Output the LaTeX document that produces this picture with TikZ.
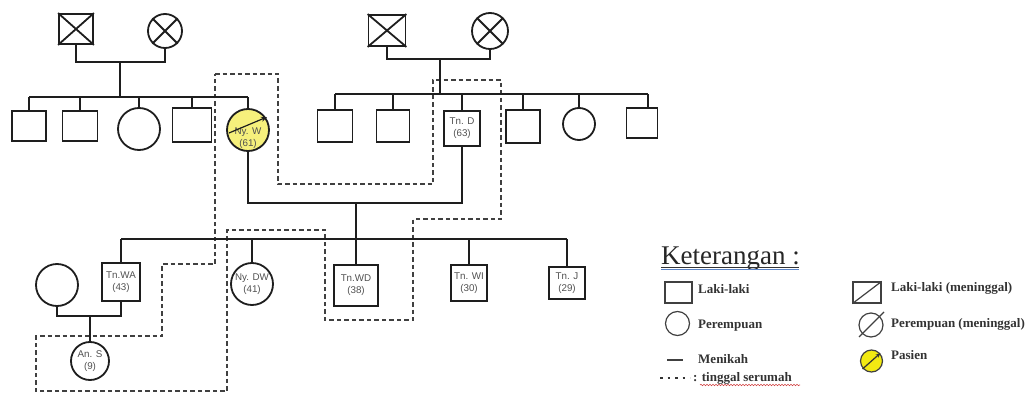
\documentclass[tikz,border=0pt]{standalone}
\usepackage{fontspec}
\setmainfont{Liberation Serif}
\newfontfamily\pedfont{Liberation Sans}
\usetikzlibrary{arrows.meta,calc,decorations.pathmorphing}
\definecolor{lineblack}{HTML}{1E1E1E}
\definecolor{pyellow}{HTML}{F6F07C}
\definecolor{lyellow}{HTML}{F2EA12}
\definecolor{lbl}{HTML}{505050}
\definecolor{ublue}{HTML}{5B84C8}
\definecolor{ured}{HTML}{D04040}
\begin{document}
\begin{tikzpicture}[x=1pt,y=-1pt,
  conn/.style={draw=lineblack, line width=1.8pt},
  sq/.style={draw=lineblack, line width=1.8pt, rectangle, inner sep=0pt, align=center, font=\pedfont\fontsize{9.8}{11.8}\selectfont, text=lbl},
  ci/.style={draw=lineblack, line width=1.8pt, circle, inner sep=0pt, align=center, font=\pedfont\fontsize{9.8}{11.8}\selectfont, text=lbl},
  home/.style={draw=lineblack!85, line width=1.3pt, dash pattern=on 4.5pt off 3pt},
  lg/.style={anchor=base west, inner sep=0pt, font=\bfseries\fontsize{13}{15}\selectfont, text=black!80},
  lsym/.style={draw=black!75, line width=1.2pt, inner sep=0pt}
]
\useasboundingbox (0,0) rectangle (1031,396);

% ---------- household (dashed) ----------
\draw[home] (215,74) -- (278,74) -- (278,184) -- (433,184) -- (433,80) -- (501,80)
  -- (501,219) -- (413,219) -- (413,320) -- (325,320) -- (325,230) -- (227,230)
  -- (227,391) -- (36,391) -- (36,336) -- (162,336) -- (162,264) -- (215,264) -- cycle;

% ---------- generation I ----------
\node[sq, minimum width=34pt, minimum height=30pt] (gp1) at (76,29) {};
\node[ci, minimum size=34pt] (gm1) at (165,31) {};
\draw[conn] (gp1.north west) -- (gp1.south east) (gp1.north east) -- (gp1.south west);
\draw[conn] (gm1.north west) -- (gm1.south east) (gm1.north east) -- (gm1.south west);
\coordinate (m1) at (120,62);
\coordinate (s1) at (120,97);
\draw[conn] (gp1.south) -- (gp1.south |- m1) -- (gm1.south |- m1) -- (gm1.south);
\draw[conn] (m1) -- (s1);

\node[sq, minimum width=37pt, minimum height=31pt] (gp2) at (387,30.5) {};
\node[ci, minimum size=36pt] (gm2) at (490,31) {};
\draw[conn] (gp2.north west) -- (gp2.south east) (gp2.north east) -- (gp2.south west);
\draw[conn] (gm2.north west) -- (gm2.south east) (gm2.north east) -- (gm2.south west);
\coordinate (m2) at (440,59);
\coordinate (s2) at (440,94);
\draw[conn] (gp2.south) -- (gp2.south |- m2) -- (gm2.south |- m2) -- (gm2.south);
\draw[conn] (m2) -- (s2);

% ---------- generation II ----------
\node[sq, minimum width=34pt, minimum height=30pt] (c1) at (29,126) {};
\node[sq, minimum width=35pt, minimum height=30pt] (c2) at (80,126) {};
\node[ci, minimum size=42pt] (c3) at (139,129) {};
\node[sq, minimum width=39pt, minimum height=34pt] (c4) at (192,125) {};
\node[ci, minimum size=42pt, fill=pyellow] (nyw) at (248,130) {};
\node[inner sep=0pt, align=center, font=\pedfont\fontsize{9.8}{11.8}\selectfont, text=lbl] (nywt) at (248,138) {Ny. W\\(61)};
\draw[lineblack, line width=1.2pt, -{Stealth[length=6pt,width=5pt]}] ($(nyw.center)+(-19,3)$) -- ($(nyw.center)+(19,-13)$);
\draw[conn] (c1.north |- s1) -- (nyw.north |- s1);
\foreach \n in {c1,c2,c3,c4,nyw} \draw[conn] (\n.north) -- (\n.north |- s1);

\node[sq, minimum width=35pt, minimum height=32pt] (d1) at (335,126) {};
\node[sq, minimum width=33pt, minimum height=32pt] (d2) at (393,126) {};
\node[sq, minimum width=36pt, minimum height=35pt] (tnd) at (462,128.5) {Tn. D\\(63)};
\node[sq, minimum width=34pt, minimum height=33pt] (d4) at (523,126.5) {};
\node[ci, minimum size=32pt] (d5) at (579,124) {};
\node[sq, minimum width=31pt, minimum height=30pt] (d6) at (642,123) {};
\coordinate (d6top) at ($(d6.north)+(6,0)$);
\draw[conn] (d1.north |- s2) -- (d6top |- s2);
\foreach \n in {d1,d2,tnd,d4,d5} \draw[conn] (\n.north) -- (\n.north |- s2);
\draw[conn] (d6top) -- (d6top |- s2);

% marriage Ny. W -- Tn. D
\coordinate (m3) at (356,203);
\coordinate (s3) at (356,239);
\draw[conn] (nyw.south) -- (nyw.south |- m3) -- (tnd.south |- m3) -- (tnd.south);

% ---------- generation III ----------
\node[sq, minimum width=38pt, minimum height=38pt] (tnwa) at (121,282) {Tn.WA\\(43)};
\node[ci, minimum size=42pt] (sp) at (57,285) {};
\node[ci, minimum size=38pt] (ans) at (90,361) {An. S\\(9)};
\node[ci, minimum size=42pt] (nydw) at (252,284) {Ny. DW\\(41)};
\node[sq, minimum width=44pt, minimum height=41pt] (tnwd) at (356,285.5) {Tn.WD\\(38)};
\node[sq, minimum width=36pt, minimum height=36pt] (tnwi) at (469,283) {Tn. WI\\(30)};
\node[sq, minimum width=36pt, minimum height=32pt] (tnj) at (567,283) {Tn. J\\(29)};
\draw[conn] (m3) -- (tnwd.north);
\draw[conn] (tnwa.north |- s3) -- (tnj.north |- s3);
\foreach \n in {tnwa,nydw,tnwi,tnj} \draw[conn] (\n.north) -- (\n.north |- s3);

\coordinate (m4) at (90,316);
\draw[conn] (sp.south) -- (sp.south |- m4) -- (tnwa.south |- m4) -- (tnwa.south);
\draw[conn] (m4) -- (ans.north);

% ---------- legend ----------
\node[anchor=base west, inner sep=0pt, font=\fontsize{27}{30}\selectfont, text=black!85] (ket) at (661,264) {Keterangan :};
\draw[black!80, line width=0.6pt] (ket.base west) ++(0,3.5) -- ++(138,0);
\draw[ublue, line width=0.9pt] (ket.base west) ++(0,5.5) -- ++(138,0);

\node[lsym, rectangle, minimum width=27pt, minimum height=21pt] (lsq) at (678.5,292.5) {};
\node[lg] (tlk) at (698,293) {Laki-laki};
\node[lsym, circle, minimum size=24pt] (lci) at (677.5,323.5) {};
\node[lg] (tpr) at (698,328) {Perempuan};
\coordinate (mk1) at (667,360);
\coordinate (mk2) at (683,360);
\draw[black!75, line width=1.4pt] (mk1) -- (mk2);
\node[lg] (tmk) at (698,363) {Menikah};
\coordinate (dt1) at (660,378);
\coordinate (dt2) at (690,378);
\draw[black!80, line width=1.8pt, dash pattern=on 2.5pt off 5pt] (dt1) -- (dt2);
\node[lg] (tts) at (693,381) {: tinggal serumah};
\draw[ured, line width=0.6pt, decorate, decoration={snake, amplitude=0.7pt, segment length=3pt}] (700,385) -- (800,385);

\node[lsym, rectangle, minimum width=28pt, minimum height=21pt] (dsq) at (867,292.5) {};
\draw[black!75, line width=1.2pt] (dsq.south west) -- (dsq.north east);
\node[lg] (tlm) at (891,291) {Laki-laki (meninggal)};
\node[lsym, circle, minimum size=24pt] (dci) at (871,325) {};
\draw[black!75, line width=1.2pt] ($(dci.center)+(-12,12)$) -- ($(dci.center)+(13,-13)$);
\node[lg] (tpm) at (891,327) {Perempuan (meninggal)};
\node[lsym, circle, minimum size=22pt, fill=lyellow] (pci) at (871.5,361) {};
\draw[black!80, line width=1.2pt, -{Stealth[length=5pt,width=4pt]}] ($(pci.center)+(-9,8)$) -- ($(pci.center)+(9,-8)$);
\node[lg] (tpa) at (891,359) {Pasien};
\end{tikzpicture}
\end{document}
